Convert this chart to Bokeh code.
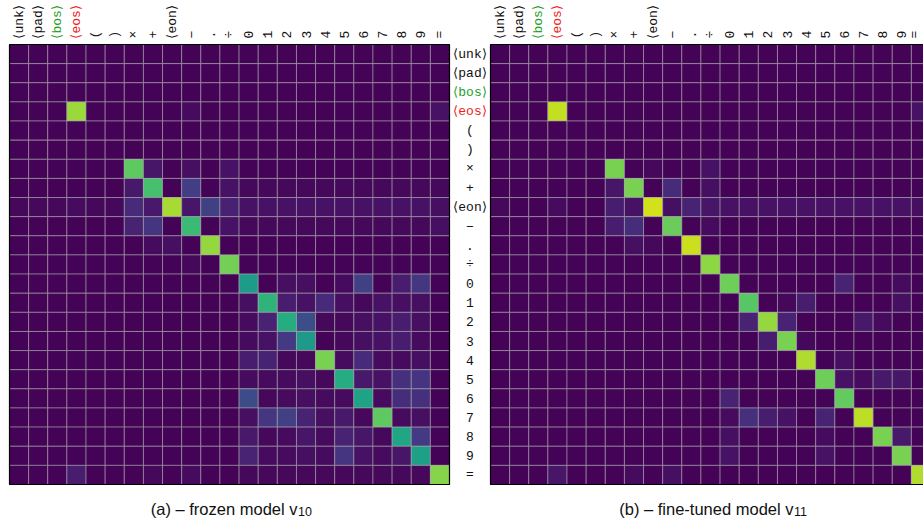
from bokeh.plotting import figure
from bokeh.models import Range1d, ColumnDataSource
from bokeh.transform import linear_cmap
from bokeh.palettes import Viridis256
from bokeh.core.properties import value
from bokeh.embed import file_html
from bokeh.resources import INLINE

tokens = ["⟨unk⟩", "⟨pad⟩", "⟨bos⟩", "⟨eos⟩", "(", ")", "×", "+", "⟨eon⟩", "−", ".", "÷",
          "0", "1", "2", "3", "4", "5", "6", "7", "8", "9", "="]
token_colors = ["#111111", "#111111", "#1f9e1f", "#f02020"] + ["#111111"] * 19

# frozen model v10, values in percent (row = token, column = token)
frozen_pct = [
    [1, 1, 1, 1, 1, 1, 1, 1, 1, 1, 1, 1, 1, 1, 1, 1, 1, 1, 1, 1, 1, 1, 1],
    [1, 1, 1, 1, 1, 1, 1, 1, 1, 1, 1, 1, 1, 1, 1, 1, 1, 1, 1, 1, 1, 1, 1],
    [1, 1, 1, 1, 1, 1, 1, 1, 1, 1, 1, 1, 1, 1, 1, 1, 1, 1, 1, 1, 1, 1, 1],
    [1, 1, 1, 85, 1, 1, 1, 1, 1, 3, 1, 1, 1, 1, 1, 1, 1, 1, 1, 1, 1, 1, 5],
    [1, 1, 1, 1, 1, 1, 1, 1, 1, 1, 1, 1, 1, 1, 1, 1, 1, 1, 1, 1, 1, 1, 1],
    [1, 1, 1, 1, 1, 1, 1, 1, 1, 1, 1, 1, 1, 1, 1, 1, 1, 1, 1, 1, 1, 1, 1],
    [1, 1, 1, 1, 1, 1, 75, 6, 1, 4, 1, 5, 1, 1, 1, 1, 1, 1, 1, 1, 1, 1, 1],
    [1, 1, 1, 1, 1, 1, 7, 71, 1, 18, 1, 5, 2, 2, 2, 2, 2, 2, 2, 2, 2, 2, 2],
    [2, 2, 2, 3, 2, 2, 12, 7, 87, 6, 19, 9, 5, 5, 5, 5, 5, 5, 5, 5, 5, 5, 4],
    [1, 1, 1, 1, 1, 1, 10, 15, 1, 68, 1, 5, 2, 2, 2, 2, 2, 2, 2, 2, 2, 2, 4],
    [1, 1, 1, 1, 1, 1, 1, 3, 4, 1, 84, 1, 1, 1, 1, 1, 1, 1, 1, 1, 1, 1, 1],
    [1, 1, 1, 1, 1, 1, 1, 1, 1, 2, 1, 79, 1, 1, 1, 1, 1, 1, 1, 1, 1, 1, 1],
    [1, 1, 1, 1, 1, 1, 1, 1, 1, 1, 1, 1, 55, 1, 4, 4, 1, 3, 19, 1, 8, 16, 1],
    [1, 1, 1, 1, 1, 1, 1, 1, 1, 1, 1, 1, 4, 65, 8, 5, 12, 4, 2, 5, 4, 4, 1],
    [1, 1, 1, 1, 1, 1, 1, 1, 1, 1, 1, 1, 3, 10, 62, 24, 2, 2, 4, 5, 8, 4, 1],
    [1, 1, 1, 1, 1, 1, 1, 1, 1, 1, 1, 1, 3, 5, 17, 54, 1, 2, 4, 5, 8, 3, 1],
    [1, 1, 1, 1, 1, 1, 1, 1, 1, 1, 1, 1, 8, 10, 2, 2, 80, 3, 12, 3, 3, 4, 1],
    [1, 1, 1, 1, 1, 1, 1, 1, 1, 1, 1, 1, 3, 3, 3, 4, 2, 62, 7, 5, 14, 15, 1],
    [1, 1, 1, 1, 1, 1, 1, 1, 1, 1, 1, 1, 23, 2, 3, 4, 3, 3, 58, 3, 13, 14, 1],
    [1, 1, 1, 1, 1, 1, 1, 1, 1, 1, 1, 1, 4, 16, 19, 10, 4, 7, 2, 75, 3, 4, 1],
    [1, 1, 1, 1, 1, 1, 1, 1, 1, 1, 1, 1, 7, 2, 3, 6, 3, 10, 6, 2, 59, 17, 1],
    [1, 1, 1, 1, 1, 1, 1, 1, 1, 1, 1, 1, 10, 3, 3, 4, 3, 15, 5, 3, 6, 57, 1],
    [1, 1, 1, 8, 1, 1, 1, 2, 1, 3, 1, 1, 2, 2, 2, 2, 2, 2, 2, 2, 2, 2, 82],
]

# fine-tuned model v11, values in percent
finetuned_pct = [
    [1, 1, 1, 1, 1, 1, 1, 1, 1, 1, 1, 1, 1, 1, 1, 1, 1, 1, 1, 1, 1, 1, 1],
    [1, 1, 1, 1, 1, 1, 1, 1, 1, 1, 1, 1, 1, 1, 1, 1, 1, 1, 1, 1, 1, 1, 1],
    [1, 1, 1, 1, 1, 1, 1, 1, 1, 1, 1, 1, 1, 1, 1, 1, 1, 1, 1, 1, 1, 1, 1],
    [1, 1, 1, 91, 1, 1, 1, 1, 1, 1, 1, 1, 1, 1, 1, 1, 1, 1, 1, 1, 1, 1, 5],
    [1, 1, 1, 1, 1, 1, 1, 1, 1, 1, 1, 1, 1, 1, 1, 1, 1, 1, 1, 1, 1, 1, 1],
    [1, 1, 1, 1, 1, 1, 1, 1, 1, 1, 1, 1, 1, 1, 1, 1, 1, 1, 1, 1, 1, 1, 1],
    [1, 1, 1, 1, 1, 1, 80, 1, 2, 1, 1, 5, 1, 1, 1, 1, 1, 1, 1, 1, 1, 1, 1],
    [1, 1, 1, 1, 1, 1, 6, 80, 1, 12, 1, 4, 1, 1, 1, 1, 1, 1, 1, 1, 1, 1, 1],
    [2, 1, 1, 3, 1, 1, 8, 5, 93, 4, 10, 6, 5, 5, 5, 5, 5, 5, 5, 5, 5, 5, 4],
    [1, 1, 1, 1, 1, 1, 8, 13, 1, 77, 1, 3, 1, 1, 1, 1, 1, 1, 1, 1, 1, 1, 1],
    [1, 1, 1, 1, 1, 1, 1, 4, 2, 1, 92, 1, 1, 1, 1, 1, 1, 1, 1, 1, 1, 1, 1],
    [1, 1, 1, 1, 1, 1, 1, 1, 1, 1, 1, 83, 1, 1, 1, 1, 1, 1, 1, 1, 1, 1, 1],
    [1, 1, 1, 1, 1, 1, 1, 1, 1, 1, 1, 1, 78, 1, 1, 1, 1, 1, 10, 1, 1, 3, 1],
    [1, 1, 1, 1, 1, 1, 1, 1, 1, 1, 1, 1, 1, 74, 1, 2, 8, 1, 1, 1, 1, 4, 1],
    [1, 1, 1, 1, 1, 1, 1, 1, 1, 1, 1, 1, 1, 10, 84, 10, 1, 1, 1, 7, 3, 1, 1],
    [1, 1, 1, 1, 1, 1, 1, 1, 1, 1, 1, 1, 1, 1, 8, 80, 2, 1, 1, 1, 1, 1, 1],
    [1, 1, 1, 1, 1, 1, 1, 1, 1, 1, 1, 1, 1, 1, 1, 1, 88, 1, 4, 1, 1, 1, 1],
    [1, 1, 1, 1, 1, 1, 1, 1, 1, 1, 1, 1, 1, 1, 1, 1, 1, 78, 5, 3, 7, 6, 1],
    [1, 1, 1, 1, 1, 1, 1, 1, 1, 1, 1, 1, 10, 1, 1, 1, 1, 1, 76, 1, 1, 1, 1],
    [1, 1, 1, 1, 1, 1, 1, 1, 1, 1, 1, 1, 3, 14, 8, 5, 1, 10, 1, 90, 1, 1, 1],
    [1, 1, 1, 1, 1, 1, 1, 1, 1, 1, 1, 1, 4, 1, 1, 1, 1, 3, 1, 1, 80, 7, 1],
    [1, 1, 1, 1, 1, 1, 1, 1, 1, 1, 1, 1, 5, 1, 1, 1, 1, 5, 1, 1, 1, 80, 1],
    [1, 1, 1, 6, 1, 1, 1, 3, 1, 4, 1, 1, 1, 1, 1, 1, 1, 1, 1, 1, 1, 1, 88],
]

caption_a = ("(a) – frozen model v", "10")
caption_b = ("(b) – fine-tuned model v", "11")

# ---------------- layout (in cell units) ----------------
n = len(tokens)
W, H = 923, 518
cell_px = 440.0 / n
left_px, top_px = 9.0, 44.0
right_offset = (490.0 - left_px) / cell_px   # left edge of second heatmap
x0 = -left_px / cell_px
x1 = x0 + W / cell_px
y_top = -top_px / cell_px
y_bot = (H - top_px) / cell_px

p = figure(width=W, height=H, output_backend="svg", toolbar_location=None,
           x_range=Range1d(x0, x1), y_range=Range1d(y_bot, y_top),
           x_axis_location=None, y_axis_location=None, min_border=0)
p.grid.visible = False
p.outline_line_color = None
p.background_fill_color = "white"
p.border_fill_color = "white"

cmap = linear_cmap("v", Viridis256, 0.0, 1.0)
label_font = value("Liberation Mono")


def heatmap(mat, offset):
    xs, ys, vs = [], [], []
    for r, row in enumerate(mat):
        for c, val in enumerate(row):
            xs.append(offset + c + 0.5)
            ys.append(r + 0.5)
            vs.append(val / 100.0)
    src = ColumnDataSource(dict(x=xs, y=ys, v=vs))
    p.rect(x="x", y="y", width=1, height=1, source=src, fill_color=cmap,
           line_color="#a8a8a8", line_alpha=0.55, line_width=1)
    p.rect(x=[offset + n / 2.0], y=[n / 2.0], width=n, height=n,
           fill_color=None, line_color="black", line_width=1.2)
    # column labels on top (kept inside the page edge)
    lx = [min(offset + c + 0.5, x1 - 9.0 / cell_px) for c in range(n)]
    tsrc = ColumnDataSource(dict(x=lx, y=[-6.0 / cell_px] * n, t=tokens, col=token_colors))
    p.text(x="x", y="y", text="t", source=tsrc, angle=1.5707963, text_align="left",
           text_baseline="middle", text_color="col", text_font=label_font,
           text_font_size="13px")


heatmap(frozen_pct, 0.0)
heatmap(finetuned_pct, right_offset)

# row labels in the middle
msrc = ColumnDataSource(dict(x=[(n + right_offset) / 2.0] * n,
                             y=[r + 0.5 for r in range(n)], t=tokens, col=token_colors))
p.text(x="x", y="y", text="t", source=msrc, text_align="center", text_baseline="middle",
       text_color="col", text_font=label_font, text_font_size="13px")

# captions with subscripts
base_y = (508.0 - top_px) / cell_px
sub_y = (511.0 - top_px) / cell_px
for (main, sub), xsplit in [(caption_a, (297.0 - left_px) / cell_px),
                            (caption_b, (793.0 - left_px) / cell_px)]:
    p.text(x=[xsplit], y=[base_y], text=[main], text_align="right",
           text_baseline="alphabetic", text_color="#111111",
           text_font=value("Liberation Sans"), text_font_size="16.5px")
    p.text(x=[xsplit + 0.03], y=[sub_y], text=[sub], text_align="left",
           text_baseline="alphabetic", text_color="#111111",
           text_font=value("Liberation Sans"), text_font_size="12.5px")

open("out.html", "w").write(file_html(p, INLINE))
